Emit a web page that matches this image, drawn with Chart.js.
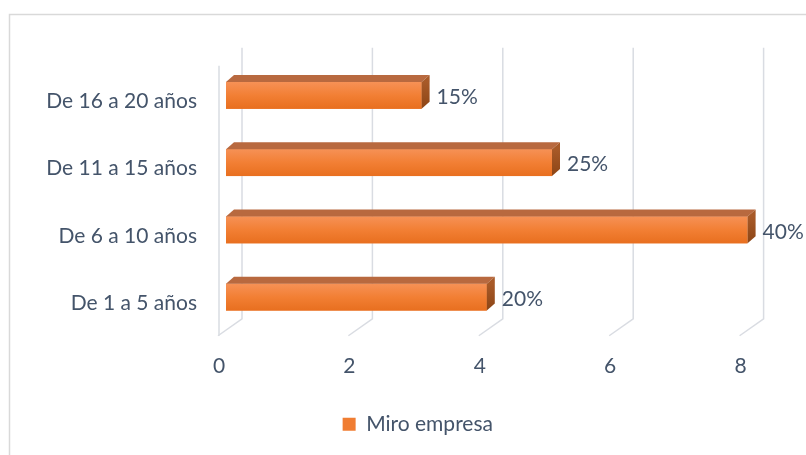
<!DOCTYPE html>
<html>
<head>
<meta charset="utf-8">
<script src="https://cdn.jsdelivr.net/npm/chart.js@4.4.1/dist/chart.umd.min.js"></script>
<style>
  html, body { margin: 0; padding: 0; background: #fff; }
  canvas { display: block; }
</style>
</head>
<body>
<canvas id="chart" width="806" height="455"></canvas>
<script>
// ── Data ──
const categories = ["De 16 a 20 años", "De 11 a 15 años", "De 6 a 10 años", "De 1 a 5 años"];
const counts     = [3, 5, 8, 4];
const xTicks     = [0, 2, 4, 6, 8];
const seriesName = "Miro empresa";

const total = counts.reduce((a, b) => a + b, 0);

// ── Look ──
const TEXT      = "#44546A";
const FONT      = "Lato, 'Open Sans', sans-serif";
const FONT_SIZE = 21;
const GRID      = "#D9DCE2";

// depth of the bar faces and of the back wall
const BAR_DX  = 8;
const BAR_DY  = -7;
const WALL_DX = 16;

// legend sits centred under the whole frame, not under the plot
const LEGEND_SHIFT = 44;

// ── 3D faces, walls and value labels ──
const excel3d = {
  id: "excel3d",
  afterLayout(chart) {
    if (chart.legend) {
      chart.legend.left  += LEGEND_SHIFT;
      chart.legend.right += LEGEND_SHIFT;
    }
  },
  beforeDraw(chart) {
    const { ctx, chartArea: area, scales } = chart;
    const xs = scales.x;

    ctx.save();
    ctx.fillStyle = "#fff";
    ctx.fillRect(0, 0, chart.width, chart.height);

    // outer frame
    ctx.strokeStyle = "#D9D9D9";
    ctx.lineWidth = 1.5;
    ctx.beginPath();
    ctx.moveTo(9.5, chart.height + 2);
    ctx.lineTo(9.5, 14.5);
    ctx.lineTo(chart.width + 2, 14.5);
    ctx.stroke();

    // back-wall gridlines bending onto the floor
    const backTop    = area.top - 14;
    const backBottom = area.bottom - 12;
    const frontY     = area.bottom + 5;
    ctx.strokeStyle = GRID;
    ctx.lineWidth = 1.5;
    xTicks.forEach(v => {
      const x0 = xs.getPixelForValue(v);
      ctx.beginPath();
      ctx.moveTo(x0 + WALL_DX, backTop);
      ctx.lineTo(x0 + WALL_DX, backBottom);
      ctx.lineTo(x0 - 8, frontY);
      ctx.stroke();
    });

    // side wall front edge
    const xl = xs.getPixelForValue(0) - 7;
    ctx.beginPath();
    ctx.moveTo(xl, area.top + 4);
    ctx.lineTo(xl, frontY);
    ctx.stroke();
    ctx.restore();
  },
  afterDatasetsDraw(chart) {
    const { ctx } = chart;
    const meta = chart.getDatasetMeta(0);

    ctx.save();
    meta.data.forEach((bar, i) => {
      const { x, y, base, height } = bar.getProps(["x", "y", "base", "height"], true);
      const top = y - height / 2;
      const bottom = y + height / 2;

      // front face shading
      const g = ctx.createLinearGradient(0, top, 0, bottom);
      g.addColorStop(0, "#F69156");
      g.addColorStop(0.5, "#F27F34");
      g.addColorStop(1, "#E86F1F");
      ctx.fillStyle = g;
      ctx.fillRect(base, top, x - base, height);

      // top face
      ctx.fillStyle = "#B8693F";
      ctx.beginPath();
      ctx.moveTo(base, top);
      ctx.lineTo(x, top);
      ctx.lineTo(x + BAR_DX, top + BAR_DY);
      ctx.lineTo(base + BAR_DX, top + BAR_DY);
      ctx.closePath();
      ctx.fill();

      // end face
      const s = ctx.createLinearGradient(0, top, 0, bottom);
      s.addColorStop(0, "#A85A28");
      s.addColorStop(1, "#8C4516");
      ctx.fillStyle = s;
      ctx.beginPath();
      ctx.moveTo(x, top);
      ctx.lineTo(x + BAR_DX, top + BAR_DY);
      ctx.lineTo(x + BAR_DX, bottom + BAR_DY);
      ctx.lineTo(x, bottom);
      ctx.closePath();
      ctx.fill();

      // value label as share of the total
      const pct = Math.round(counts[i] / total * 100) + "%";
      ctx.fillStyle = TEXT;
      ctx.font = `${FONT_SIZE}px ${FONT}`;
      ctx.textAlign = "left";
      ctx.textBaseline = "middle";
      ctx.fillText(pct, x + BAR_DX + 7, y + 2);
    });
    ctx.restore();
  },
};

// ── Chart ──
new Chart(document.getElementById("chart"), {
  type: "bar",
  data: {
    labels: categories,
    datasets: [{
      label: seriesName,
      data: counts,
      backgroundColor: "#F07D32",
      borderWidth: 0,
      categoryPercentage: 1,
      barPercentage: 0.4,
    }],
  },
  options: {
    indexAxis: "y",
    responsive: false,
    animation: false,
    devicePixelRatio: 1,
    layout: { padding: { left: 0, right: 58.4, top: 61.75, bottom: 10.25 } },
    scales: {
      x: {
        min: 0,
        max: 8,
        grid: { display: false, drawTicks: false },
        border: { display: false },
        afterBuildTicks: s => { s.ticks = xTicks.map(v => ({ value: v })); },
        afterFit: s => { s.height = 50; },
        ticks: {
          color: TEXT,
          font: { family: FONT, size: FONT_SIZE },
          padding: 23,
          labelOffset: -7,
        },
      },
      y: {
        grid: { display: false, drawTicks: false },
        border: { display: false },
        afterFit: s => { s.width = 226; },
        ticks: {
          color: TEXT,
          font: { family: FONT, size: FONT_SIZE },
          padding: 29,
          labelOffset: 6,
        },
      },
    },
    plugins: {
      legend: {
        position: "bottom",
        labels: {
          color: TEXT,
          font: { family: FONT, size: FONT_SIZE },
          boxWidth: 13,
          boxHeight: 13,
          padding: 33,
        },
      },
      tooltip: { enabled: false },
    },
  },
  plugins: [excel3d],
});
</script>
</body>
</html>
